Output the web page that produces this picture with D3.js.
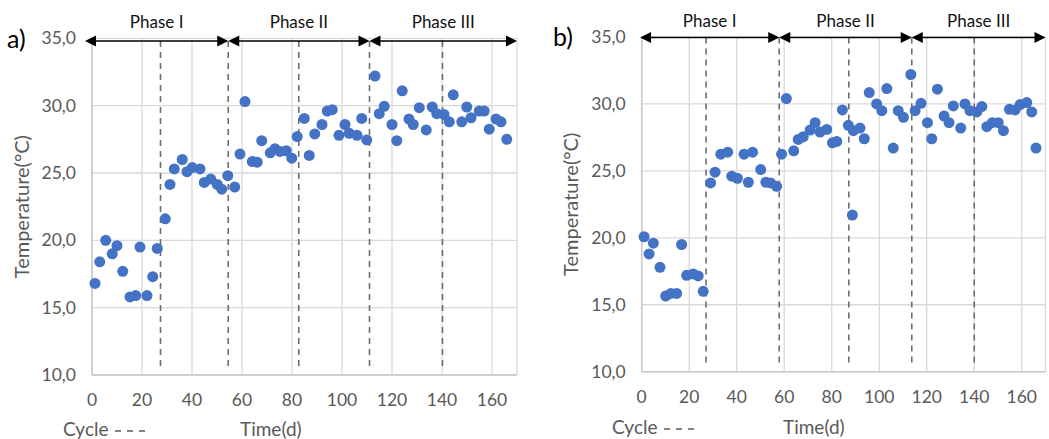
<!DOCTYPE html>
<html><head><meta charset="utf-8">
<script src="https://cdn.jsdelivr.net/npm/d3@7"></script>
<style>body{margin:0;background:#fff;} svg{display:block;} text{font-family:Lato,"Open Sans",sans-serif;}</style>
</head><body>
<svg id="c" width="1049" height="439"></svg>
<script>
// ---- data ----
const xTicks = [0,20,40,60,80,100,120,140,160];
const yTicks = [10,15,20,25,30,35];
const yTickLabels = ["10,0","15,0","20,0","25,0","30,0","35,0"];
const phaseNames = ["Phase I","Phase II","Phase III"];

const timeA = [1.2,3.1,5.5,8.1,10,12.3,15.2,17.5,19.2,22,24.3,26.1,29.3,31.2,32.9,36.1,38,40.1,43.2,44.9,47.5,50.1,51.9,54.3,57.1,59.2,61.2,64.1,66.1,67.9,71.3,73.2,75.2,77.7,79.9,82.1,84.9,86.9,89.1,92,94.1,96.1,98.8,101.2,102.9,106,107.9,109.9,113.2,114.9,116.9,120,121.9,124.1,126.8,128.5,130.9,133.7,136.1,137.9,140.8,142.9,144.5,147.9,149.9,151.6,154.9,156.9,158.9,161.6,163.6,165.9];
const tempA = [16.8,18.4,20.0,19.0,19.6,17.7,15.8,15.9,19.5,15.9,17.3,19.4,21.6,24.15,25.3,26.0,25.1,25.4,25.3,24.3,24.55,24.15,23.8,24.8,23.95,26.4,30.3,25.85,25.8,27.4,26.5,26.8,26.6,26.65,26.1,27.7,29.05,26.3,27.9,28.6,29.6,29.7,27.8,28.6,27.95,27.8,29.05,27.45,32.2,29.4,29.95,28.6,27.4,31.1,29.0,28.6,29.85,28.2,29.9,29.4,29.35,28.8,30.8,28.8,29.9,29.1,29.6,29.6,28.25,29.0,28.8,27.5];
const cyclesA = [27.4,54.5,82.7,111,140.2];
const phaseEdgesA = [-2.8,54.5,111,170];

const timeB = [1.0,3.1,4.9,7.7,10.1,12.3,14.7,16.8,18.9,21.7,23.8,25.9,29.0,30.9,33.3,36.2,37.9,40.3,43.1,44.9,46.7,50.1,52.3,54.3,56.8,58.9,60.9,64,65.9,68,70.9,73,75.1,77.9,80.3,82.1,84.5,87,88.7,89.1,91.9,93.7,95.8,98.9,101.1,103.2,105.9,108,110.2,113.3,115.1,117.6,120.3,122.1,124.5,127.3,129.4,131.2,134.3,136.1,138.2,141.1,143.2,145.3,147.6,150.1,152.3,154.8,157.2,159.3,162.1,164.2,166];
const tempB = [20.08,18.8,19.6,17.8,15.65,15.85,15.85,19.5,17.2,17.3,17.15,16.0,24.1,24.9,26.25,26.4,24.6,24.45,26.25,24.15,26.4,25.1,24.15,24.1,23.85,26.25,30.4,26.5,27.35,27.55,28.05,28.6,27.9,28.1,27.1,27.2,29.55,28.4,21.7,28.0,28.2,27.4,30.85,30.0,29.5,31.15,26.7,29.5,29.0,32.2,29.5,30.05,28.6,27.4,31.1,29.1,28.6,29.85,28.2,30.0,29.5,29.4,29.8,28.3,28.6,28.6,28.0,29.6,29.55,29.95,30.1,29.4,26.7];
const cyclesB = [27.1,57.9,87.2,113.7,140];
const phaseEdgesB = [-0.7,57.9,113.7,170];

// ---- layout ----
const panels = [
  {tag:"a)", time:timeA, temp:tempA, cycles:cyclesA, edges:phaseEdgesA,
   x0:92, x1:517, yb:375, yt:38.3, tagX:7, tagY:48, ytitleX:29, cycleX:63, timeX:240, titleY:436, arrowY:41, phaseY:28, tickLabY:406},
  {tag:"b)", time:timeB, temp:tempB, cycles:cyclesB, edges:phaseEdgesB,
   x0:641.7, x1:1045.5, yb:371.7, yt:37, tagX:553, tagY:46, ytitleX:578, cycleX:612, timeX:783, titleY:434, arrowY:37.5, phaseY:27, tickLabY:403}
];

const svg = d3.select("#c");
const grid = "#d9d9d9", txt = "#595959";

panels.forEach(p => {
  const x = d3.scaleLinear().domain([0,170]).range([p.x0,p.x1]);
  const y = d3.scaleLinear().domain([10,35]).range([p.yb,p.yt]);
  const g = svg.append("g");

  g.selectAll(".hg").data(yTicks).join("line")
    .attr("x1",p.x0).attr("x2",p.x1).attr("y1",d=>y(d)).attr("y2",d=>y(d))
    .attr("stroke",grid).attr("stroke-width",1.3);
  g.selectAll(".vg").data(xTicks).join("line")
    .attr("x1",d=>x(d)).attr("x2",d=>x(d)).attr("y1",p.yt).attr("y2",p.yb)
    .attr("stroke",grid).attr("stroke-width",1.3);
  g.append("line").attr("x1",x(170)).attr("x2",x(170)).attr("y1",p.yt).attr("y2",p.yb).attr("stroke",grid).attr("stroke-width",1.3);
  g.append("line").attr("x1",p.x0).attr("x2",p.x1).attr("y1",p.yb).attr("y2",p.yb).attr("stroke","#c8c8c8").attr("stroke-width",1.5);
  g.append("line").attr("x1",p.x0).attr("x2",p.x0).attr("y1",p.yt).attr("y2",p.yb).attr("stroke","#c8c8c8").attr("stroke-width",1.5);

  g.selectAll(".yl").data(yTicks).join("text")
    .attr("x",p.x0-16).attr("y",d=>y(d)).attr("dy","0.35em").attr("text-anchor","end")
    .attr("fill",txt).attr("font-size",17.5).text((d,i)=>yTickLabels[i]);
  g.selectAll(".xl").data(xTicks).join("text")
    .attr("x",d=>x(d)).attr("y",p.tickLabY).attr("text-anchor","middle")
    .attr("fill",txt).attr("font-size",17.5).text(d=>d);

  g.selectAll(".cy").data(p.cycles).join("line")
    .attr("x1",d=>x(d)).attr("x2",d=>x(d)).attr("y1",p.arrowY).attr("y2",p.yb-5)
    .attr("stroke","#6e6e6e").attr("stroke-width",1.6).attr("stroke-dasharray","6,5");

  g.selectAll(".pt").data(p.time.map((t,i)=>[t,p.temp[i]])).join("circle")
    .attr("cx",d=>x(d[0])).attr("cy",d=>y(d[1])).attr("r",5.5).attr("fill","#4472C4");

  const head = (xt, dir) => {
    const L=11, H=5.5;
    return `M${xt},${p.arrowY}L${xt-dir*L},${p.arrowY-H}L${xt-dir*L},${p.arrowY+H}Z`;
  };
  for (let i=0;i<3;i++){
    const a = x(p.edges[i]), b = x(p.edges[i+1]);
    g.append("line").attr("x1",a+4).attr("x2",b-4).attr("y1",p.arrowY).attr("y2",p.arrowY)
      .attr("stroke","#000").attr("stroke-width",1.6);
    g.append("path").attr("d",head(a,-1)).attr("fill","#000");
    g.append("path").attr("d",head(b,1)).attr("fill","#000");
    g.append("text").attr("x",(a+b)/2).attr("y",p.phaseY).attr("text-anchor","middle")
      .attr("fill","#111").attr("font-size",17).text(phaseNames[i]);
  }

  g.append("text").attr("x",p.tagX).attr("y",p.tagY).attr("font-size",25).attr("fill","#000").text(p.tag);
  g.append("text").attr("transform",`translate(${p.ytitleX},${(p.yt+p.yb)/2}) rotate(-90)`)
    .attr("text-anchor","middle").attr("fill",txt).attr("font-size",20).text("Temperature(°C)");
  g.append("text").attr("x",p.cycleX).attr("y",p.titleY).attr("fill",txt).attr("font-size",19).text("Cycle");
  g.append("line").attr("x1",p.cycleX+52).attr("x2",p.cycleX+88).attr("y1",p.titleY-5).attr("y2",p.titleY-5)
    .attr("stroke",txt).attr("stroke-width",1.5).attr("stroke-dasharray","6,6");
  g.append("text").attr("x",p.timeX).attr("y",p.titleY).attr("fill",txt).attr("font-size",19).text("Time(d)");
});
</script>
</body></html>
